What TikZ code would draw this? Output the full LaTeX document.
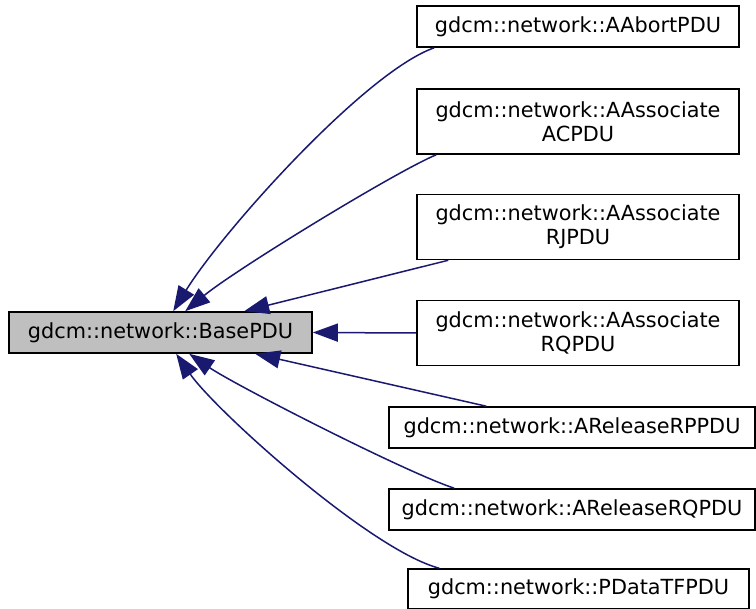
\documentclass[tikz,border=0pt]{standalone}
\usepackage{fontspec}
\setmainfont{DejaVu Sans}
\usetikzlibrary{arrows.meta,calc}
\definecolor{edgeBlue}{RGB}{25,25,112}
\definecolor{baseGray}{RGB}{191,191,191}

\begin{document}
\begin{tikzpicture}[x=0.5pt,y=-0.5pt,>={Triangle[length=12.5pt,width=9pt]},
  cls/.style={draw,line width=0.8pt,inner sep=0pt,align=center,fill=white,
    font=\fontsize{10.4}{12}\selectfont,minimum width=161pt,minimum height=20.5pt},
  edge/.style={->,draw=edgeBlue,line width=0.75pt}]
\useasboundingbox (0,0) rectangle (756,609);
% base class
\node[cls,fill=baseGray,minimum width=151.5pt] (base) at (160.5,332.5) {gdcm::network::BasePDU};
% derived classes
\node[cls] (aabort) at (578,26.5) {gdcm::network::AAbortPDU};
\node[cls,minimum height=32.5pt] (acpdu) at (578,121.5) {gdcm::network::AAssociate\\ACPDU};
\node[cls,minimum height=32.5pt] (rjpdu) at (578,227) {gdcm::network::AAssociate\\RJPDU};
\node[cls,minimum height=32.5pt] (rqpdu) at (578,333) {gdcm::network::AAssociate\\RQPDU};
\node[cls,minimum width=183pt] (arelrp) at (572,427.5) {gdcm::network::AReleaseRPPDU};
\node[cls,minimum width=183pt] (arelrq) at (572,509.5) {gdcm::network::AReleaseRQPDU};
\node[cls,minimum width=170.5pt,minimum height=20pt] (pdata) at (578.5,589) {gdcm::network::PDataTFPDU};
% inheritance arrows
\draw[edge] ($(aabort.south west)+(18,0)$) .. controls (365,72) and (222,232) .. ($(base.north west)+(165,0)$);
\draw[edge] ($(acpdu.south west)+(20,0)$) .. controls (395,172) and (235,270) .. ($(base.north west)+(177,0)$);
\draw[edge] ($(rjpdu.south west)+(32,0)$) -- ($(base.north west)+(236,0)$);
\draw[edge] (rqpdu.west) -- (base.east);
\draw[edge] ($(arelrp.north west)+(98,0)$) -- ($(base.south west)+(247,0)$);
\draw[edge] ($(arelrq.north west)+(66,0)$) .. controls (405,472) and (235,385) .. ($(base.south west)+(181,0)$);
\draw[edge] ($(pdata.north west)+(32,0)$) .. controls (370,550) and (215,410) .. ($(base.south west)+(168,0)$);
\end{tikzpicture}
\end{document}
